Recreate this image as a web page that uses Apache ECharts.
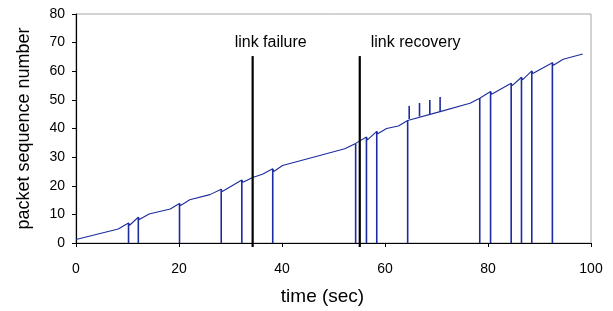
<!DOCTYPE html>
<html>
<head>
<meta charset="utf-8">
<script src="https://cdn.jsdelivr.net/npm/echarts@6/dist/echarts.min.js"></script>
<style>
html,body{margin:0;padding:0;background:#fff;}
#main{width:613px;height:311px;}
</style>
</head>
<body>
<div id="main"></div>
<script>
// main sequence curve (time, seq no)
var curveT = [0, 8.2, 10.2, 10.4, 12.1, 12.3, 14.2, 18.3, 20.1, 20.3, 22.1, 26.0, 28.2, 28.4, 32.2, 32.4,
    34.3, 36.2, 38.2, 38.4, 40.1, 52.2, 54.3, 54.5, 56.4, 56.6, 58.4, 58.6, 60.3, 62.6, 64.4, 64.7,
    70.7, 76.5, 78.4, 78.6, 80.5, 80.7, 84.5, 84.7, 86.5, 86.7, 88.5, 88.7, 92.5, 92.7, 94.6, 98.4];
var curveV = [1.2, 4.9, 7.0, 6.2, 9.0, 8.2, 10.1, 11.9, 13.8, 13.1, 15.1, 16.9, 18.8, 18.0, 22.0, 21.2,
    22.9, 24.0, 25.9, 25.0, 27.1, 32.9, 34.8, 34.2, 37.0, 36.0, 39.0, 38.2, 40.0, 40.9, 42.8, 43.3,
    45.9, 48.8, 50.6, 50.0, 52.9, 52.0, 55.8, 55.0, 57.9, 57.0, 60.1, 59.2, 63.0, 62.1, 64.2, 66.0];

// retransmissions: vertical marks from 0 up to the curve
var spikeT   = [10.2, 12.1, 20.1, 28.2, 32.2, 38.2, 54.3, 56.4, 58.4, 64.4, 78.4, 80.5, 84.5, 86.5, 88.5, 92.5];
var spikeTop = [7.0, 9.0, 13.8, 18.8, 22.0, 25.9, 34.8, 37.0, 39.0, 42.8, 50.6, 52.9, 55.8, 57.9, 60.1, 63.0];

// short marks above the curve
var tickT    = [64.7, 66.7, 68.7, 70.7];
var tickLow  = [43.3, 44.2, 45.0, 45.9];
var tickHigh = [47.9, 48.9, 50.0, 51.0];

// link events
var eventName = ['link failure', 'link recovery'];
var eventT    = [34.3, 55.1];
var eventTop  = [65.3, 65.3];

var blue = '#1c2c9e';

var curveData = curveT.map(function (t, i) { return [t, curveV[i]]; });
var segData = [];
spikeT.forEach(function (t, i) { segData.push([t, 0, spikeTop[i]]); });
tickT.forEach(function (t, i) { segData.push([t, tickLow[i], tickHigh[i]]); });
var eventData = eventT.map(function (t, i) { return [t, 0, eventTop[i], eventName[i]]; });

var labelShift = [-18, 11]; // text left edge vs line

var chart = echarts.init(document.getElementById('main'));
var option = {
    animation: false,
    grid: {
        left: 76, right: 22, top: 14, bottom: 68,
        show: true,
        borderColor: '#a6a6a6',
        borderWidth: 1
    },
    xAxis: {
        type: 'value',
        min: 0, max: 100, interval: 20,
        name: 'time (sec)',
        nameLocation: 'middle',
        nameGap: 44,
        nameTextStyle: { fontFamily: 'Liberation Sans', fontSize: 19, color: '#000', padding: [0, 22, 0, 0] },
        axisLine: { lineStyle: { color: '#000', width: 1.2 } },
        axisTick: { show: true, length: 4, lineStyle: { color: '#000' } },
        axisLabel: { margin: 19, fontFamily: 'Liberation Sans', fontSize: 14, color: '#000' },
        splitLine: { show: false }
    },
    yAxis: {
        type: 'value',
        min: 0, max: 80, interval: 10,
        name: 'packet sequence number',
        nameLocation: 'middle',
        nameGap: 43,
        nameTextStyle: { fontFamily: 'Liberation Sans', fontSize: 18, color: '#000' },
        axisLine: { show: true, lineStyle: { color: '#000', width: 1.2 } },
        axisTick: { show: true, length: 4, lineStyle: { color: '#000' } },
        axisLabel: { margin: 11, fontFamily: 'Liberation Sans', fontSize: 14, color: '#000' },
        splitLine: { show: false }
    },
    series: [
        {
            type: 'line',
            data: curveData,
            showSymbol: false,
            symbol: 'none',
            lineStyle: { color: blue, width: 1.1 },
            z: 3
        },
        {
            type: 'custom',
            data: segData,
            encode: { x: 0, y: [1, 2] },
            renderItem: function (params, api) {
                var p0 = api.coord([api.value(0), api.value(1)]);
                var p1 = api.coord([api.value(0), api.value(2)]);
                return {
                    type: 'line',
                    shape: { x1: p0[0], y1: p0[1], x2: p1[0], y2: p1[1] },
                    style: { stroke: blue, lineWidth: 1.6 }
                };
            },
            z: 4
        },
        {
            type: 'custom',
            data: eventData,
            encode: { x: 0, y: [1, 2] },
            clip: false,
            renderItem: function (params, api) {
                var p0 = api.coord([api.value(0), api.value(1)]);
                var p1 = api.coord([api.value(0), api.value(2)]);
                return {
                    type: 'group',
                    children: [{
                        type: 'line',
                        shape: { x1: p0[0], y1: p0[1] + 4, x2: p1[0], y2: p1[1] },
                        style: { stroke: '#000', lineWidth: 2.2 }
                    }, {
                        type: 'text',
                        x: p1[0] + labelShift[params.dataIndex],
                        y: p1[1] - 5,
                        style: {
                            text: eventName[params.dataIndex],
                            fontFamily: 'Liberation Sans',
                            fontSize: 16,
                            fill: '#000',
                            textAlign: 'left',
                            textVerticalAlign: 'bottom'
                        }
                    }]
                };
            },
            z: 5
        }
    ]
};
chart.setOption(option);
</script>
</body>
</html>
